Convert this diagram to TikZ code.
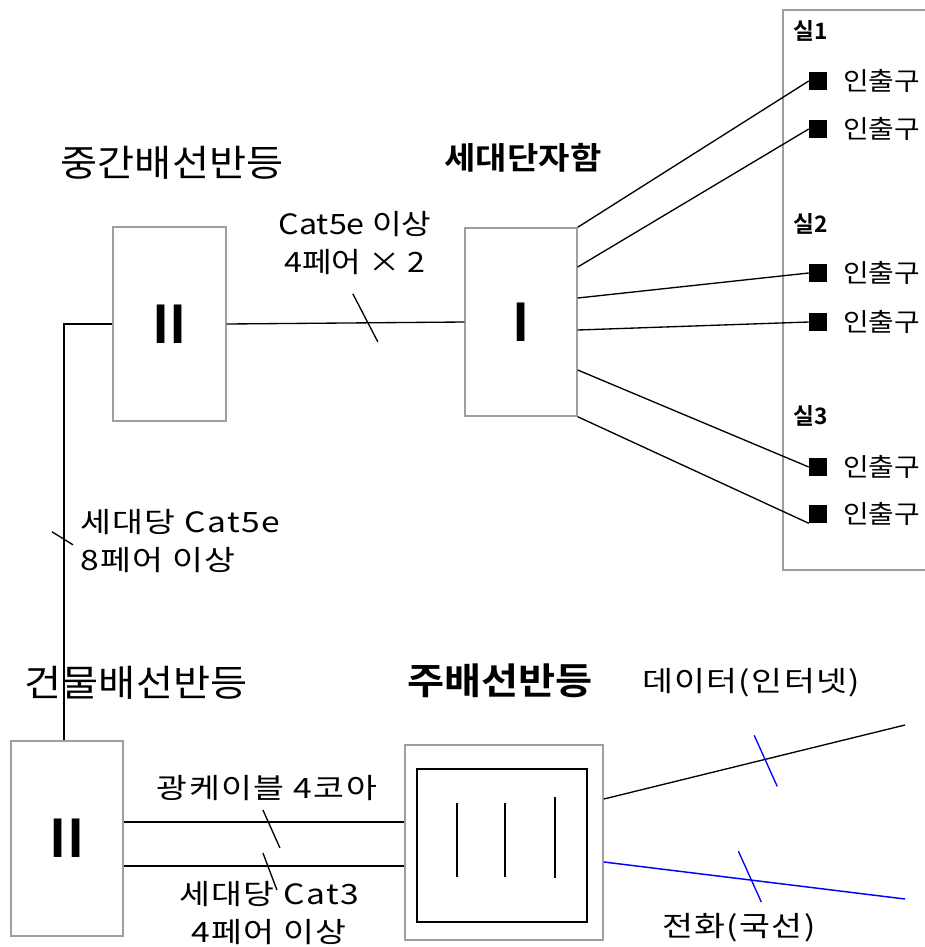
\documentclass[tikz,border=0pt]{standalone}
\usepackage{fontspec}
\setmainfont{Noto Sans CJK KR}[BoldFont={* Bold}]
\begin{document}
\begin{tikzpicture}[
	x=0.75pt, y=-0.75pt,
	panel/.style={
		rectangle,
		draw=black!38,
		line width=1.1pt,
		inner sep=0pt,
		font=\fontsize{39}{39}\selectfont\bfseries,
	},
	title/.style={font=\fontsize{27.5}{33}\selectfont\addfontfeature{FakeStretch=1.1}, inner sep=0pt},
	note/.style={font=\fontsize{21}{29}\selectfont\addfontfeature{FakeStretch=1.2,LetterSpace=5}, align=center, inner sep=0pt},
	outtext/.style={font=\fontsize{19}{22}\selectfont\addfontfeature{FakeStretch=1.1}, anchor=west, inner sep=0pt},
	room/.style={font=\fontsize{17}{20}\selectfont\bfseries, anchor=west, inner sep=0pt},
	outlet/.style={rectangle, fill=black, minimum size=13.5pt, inner sep=0pt},
	WireC1/.style={line width=1pt},% plain wires
	TickC1/.style={line width=1pt},
	PhoneC1/.style={line width=1.1pt, draw=blue},
	]
	\useasboundingbox (0,0) rectangle (925,947);
	% intermediate distribution frame
	\node[title] (tmid) at (172,163) {중간배선반등};
	\node[panel, minimum width=84.75pt, minimum height=145.5pt] (mid) at (169.5,324) {II};
	\node[note, font=\fontsize{21}{29}\selectfont\addfontfeature{FakeStretch=1.15}] (nmid) at (355,243) {Cat5e 이상\\4페어 × 2};
	
	% household terminal box
	\node[title, font=\fontsize{23.25}{28}\selectfont\bfseries\addfontfeature{FakeStretch=1.1}] (tunit) at (523,158) {세대단자함};
	\node[panel, minimum width=84pt, minimum height=141pt] (unit) at (521,322) {I};
	
	% rooms
	\draw[panel] (783,10) rectangle (940,570);
	\node[room] (r1) at (793,31) {실1};
	\node[outlet] (o1) at (818,81) {};
	\node[outtext] (l1) at (843,81) {인출구};
	\node[outlet] (o2) at (818,129) {};
	\node[outtext] (l2) at (843,129) {인출구};
	\node[room] (r2) at (793,224) {실2};
	\node[outlet] (o3) at (818,273) {};
	\node[outtext] (l3) at (843,273) {인출구};
	\node[outlet] (o4) at (818,322) {};
	\node[outtext] (l4) at (843,322) {인출구};
	\node[room] (r3) at (793,416) {실3};
	\node[outlet] (o5) at (818,467) {};
	\node[outtext] (l5) at (843,467) {인출구};
	\node[outlet] (o6) at (818,514) {};
	\node[outtext] (l6) at (843,514) {인출구};
	
	% building distribution frame
	\node[title] (tbld) at (136,683) {건물배선반등};
	\node[panel, minimum width=84pt, minimum height=146.25pt] (bld) at (67,838.5) {II};
	\node[note, anchor=west, align=left] (nriser) at (80,541) {세대당 Cat5e\\8페어 이상};
	\node[note] (nfiber) at (267,788) {광케이블 4코아};
	\node[note, font=\fontsize{21}{28}\selectfont\addfontfeature{FakeStretch=1.2,LetterSpace=5}] (ncat3) at (269,913) {세대당 Cat3\\4페어 이상};
	
	% main distribution frame
	\node[title, font=\fontsize{27.5}{33}\selectfont\bfseries\addfontfeature{FakeStretch=1.1}] (tmain) at (500,681) {주배선반등};
	\node[panel, minimum width=148.5pt, minimum height=146.25pt] (main) at (504,842.5) {};
	\node[rectangle, draw, line width=1.1pt, minimum width=127.5pt, minimum height=114.75pt] (inner) at (502,845.5) {};
	\draw[WireC1] (457,803) -- (457,877);
	\draw[WireC1] (505,803) -- (505,877);
	\draw[WireC1] (555,797) -- (555,878);
	\node[note] (ndata) at (751,683) {데이터(인터넷)};
	\node[note] (nphone) at (739,928) {전화(국선)};
	
	% connectors
	\draw[WireC1] (mid.east) -- coordinate[pos=0.594] (k1) (unit.west);
	\draw[TickC1] ([shift={(-15,-29)}]k1) -- ([shift={(10,19)}]k1);
	
	\coordinate (bend) at (64,324);
	\draw[WireC1] (mid.west) -- (bend) -- coordinate[pos=0.516] (k2) (bend |- bld.north);
	\draw[TickC1] ([shift={(-12,-7)}]k2) -- ([shift={(9,6)}]k2);
	
	\draw[WireC1] (unit.north east) -- (o1.west);
	\draw[WireC1] ([yshift=41.25pt]unit.east) -- (o2.west);
	\draw[WireC1] ([yshift=18pt]unit.east) -- (o3.west);
	\draw[WireC1] ([yshift=-6pt]unit.east) -- (o4.west);
	\draw[WireC1] ([yshift=-36pt]unit.east) -- (o5.west);
	\draw[WireC1] (unit.south east) -- (o6.south west);
	
	\coordinate (f1) at ([yshift=12.4pt]bld.east);
	\coordinate (f2) at ([yshift=-20.6pt]bld.east);
	\draw[WireC1] (f1) -- coordinate[pos=0.514] (k3) (f1 -| main.west);
	\draw[TickC1] ([shift={(-5,-12)}]k3) -- ([shift={(12,26)}]k3);
	\draw[WireC1] (f2) -- coordinate[pos=0.514] (k4) (f2 -| main.west);
	\draw[TickC1] ([shift={(-5,-13)}]k4) -- ([shift={(9,24)}]k4);
	
	\coordinate (dEnd) at (905,725);
	\coordinate (pEnd) at (905,899);
	\draw[WireC1] ([yshift=32.6pt]main.east) -- coordinate[pos=0.536] (k5) (dEnd);
	\draw[TickC1, blue] ([shift={(-11,-24)}]k5) -- ([shift={(12,27)}]k5);
	\draw[PhoneC1] ([yshift=-14.6pt]main.east) -- coordinate[pos=0.49] (k6) (pEnd);
	\draw[TickC1, blue] ([shift={(-13,-29)}]k6) -- ([shift={(10,22)}]k6);
\end{tikzpicture}
\end{document}
